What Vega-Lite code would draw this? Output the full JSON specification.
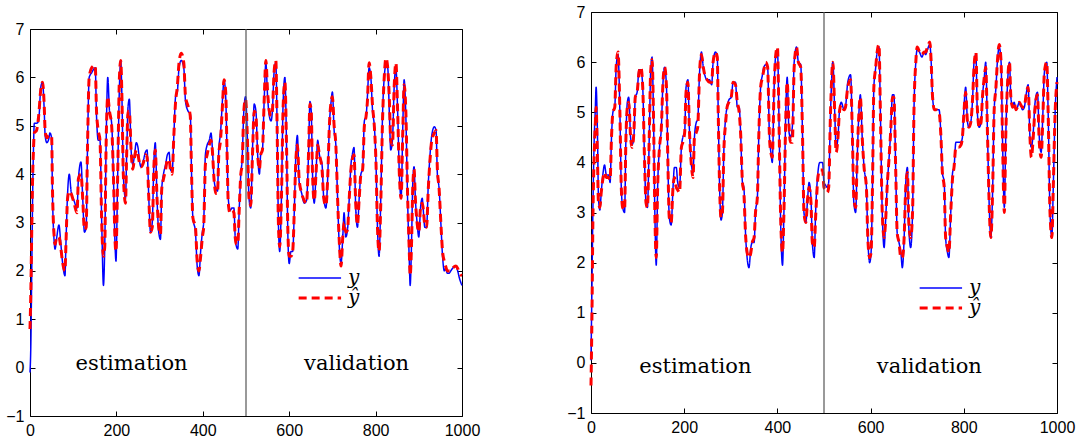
{
  "$schema": "https://vega.github.io/schema/vega-lite/v6.json",
  "background": "white",
  "padding": {"left": 5, "top": 3, "right": 3, "bottom": 0},
  "spacing": 85,
  "config": {
    "view": {"stroke": "black", "strokeWidth": 1},
    "axis": {"labelFont": "Liberation Sans", "labelFontSize": 16, "labelColor": "black", "tickColor": "black", "domain": false, "grid": false, "title": null, "labelFlush": false, "tickSize": -5, "labelPadding": 11, "format": "d"},
    "text": {"font": "DejaVu Serif"}
  },
  "datasets": {
    "L": [
      {"t":0,"y":-0.1,"ŷ":0.8},{"t":2,"y":0.5,"ŷ":1.6},{"t":4,"y":2.0,"ŷ":2.8},{"t":6,"y":3.5,"ŷ":3.9},{"t":8,"y":4.5,"ŷ":4.5},{"t":10,"y":5.05,"ŷ":4.85},{"t":15,"y":5.05,"ŷ":4.9},{"t":20,"y":5.1,"ŷ":5.2},{"t":25,"y":5.8,"ŷ":5.75},{"t":29,"y":5.9,"ŷ":5.9},{"t":33,"y":5.3,"ŷ":5.4},{"t":35,"y":4.8,"ŷ":4.9},{"t":39,"y":4.65,"ŷ":4.75},{"t":44,"y":4.75,"ŷ":4.8},{"t":46,"y":4.85,"ŷ":4.8},{"t":50,"y":4.75,"ŷ":4.8},{"t":52,"y":3.6,"ŷ":3.7},{"t":56,"y":2.6,"ŷ":2.7},{"t":58,"y":2.45,"ŷ":2.55},{"t":62,"y":2.7,"ŷ":2.7},{"t":67,"y":2.95,"ŷ":2.7},{"t":71,"y":2.6,"ŷ":2.5},{"t":75,"y":2.2,"ŷ":2.2},{"t":81,"y":1.9,"ŷ":2.0},{"t":83,"y":2.5,"ŷ":2.5},{"t":87,"y":3.6,"ŷ":3.5},{"t":91,"y":4.0,"ŷ":3.65},{"t":95,"y":3.65,"ŷ":3.6},{"t":102,"y":3.45,"ŷ":3.4},{"t":109,"y":3.3,"ŷ":3.2},{"t":112,"y":3.9,"ŷ":3.9},{"t":118,"y":4.25,"ŷ":4.0},{"t":122,"y":3.5,"ŷ":3.5},{"t":126,"y":2.8,"ŷ":2.85},{"t":130,"y":2.9,"ŷ":2.9},{"t":133,"y":4.5,"ŷ":4.5},{"t":137,"y":6.0,"ŷ":6.0},{"t":143,"y":6.1,"ŷ":6.2},{"t":151,"y":6.2,"ŷ":6.25},{"t":154,"y":5.2,"ŷ":5.3},{"t":158,"y":4.7,"ŷ":4.9},{"t":162,"y":4.7,"ŷ":4.7},{"t":166,"y":3.0,"ŷ":3.0},{"t":170,"y":1.7,"ŷ":2.3},{"t":173,"y":2.5,"ŷ":2.5},{"t":176,"y":4.5,"ŷ":4.5},{"t":180,"y":6.0,"ŷ":5.6},{"t":184,"y":5.3,"ŷ":5.3},{"t":189,"y":5.05,"ŷ":5.0},{"t":193,"y":4.0,"ŷ":4.0},{"t":197,"y":2.5,"ŷ":2.6},{"t":199,"y":2.2,"ŷ":2.4},{"t":203,"y":4.0,"ŷ":4.0},{"t":207,"y":5.8,"ŷ":6.0},{"t":210,"y":6.35,"ŷ":6.35},{"t":213,"y":5.5,"ŷ":5.5},{"t":216,"y":4.0,"ŷ":4.0},{"t":221,"y":3.5,"ŷ":3.4},{"t":224,"y":4.5,"ŷ":4.5},{"t":227,"y":5.4,"ŷ":5.3},{"t":230,"y":5.55,"ŷ":5.3},{"t":234,"y":4.5,"ŷ":4.5},{"t":238,"y":4.2,"ŷ":4.1},{"t":242,"y":4.4,"ŷ":4.35},{"t":246,"y":4.65,"ŷ":4.5},{"t":250,"y":4.55,"ŷ":4.4},{"t":253,"y":4.3,"ŷ":4.25},{"t":257,"y":4.15,"ŷ":4.15},{"t":263,"y":4.3,"ŷ":4.25},{"t":267,"y":4.45,"ŷ":4.4},{"t":271,"y":4.5,"ŷ":4.35},{"t":275,"y":3.5,"ŷ":3.5},{"t":279,"y":2.8,"ŷ":2.8},{"t":283,"y":3.0,"ŷ":2.9},{"t":287,"y":4.3,"ŷ":4.2},{"t":290,"y":4.65,"ŷ":4.5},{"t":294,"y":3.5,"ŷ":3.5},{"t":298,"y":2.8,"ŷ":2.9},{"t":302,"y":2.65,"ŷ":2.75},{"t":305,"y":3.7,"ŷ":3.7},{"t":309,"y":4.0,"ŷ":3.9},{"t":314,"y":4.2,"ŷ":4.1},{"t":318,"y":4.4,"ŷ":4.3},{"t":322,"y":4.45,"ŷ":4.3},{"t":325,"y":4.1,"ŷ":4.1},{"t":329,"y":4.05,"ŷ":4.0},{"t":333,"y":4.8,"ŷ":4.8},{"t":337,"y":5.6,"ŷ":5.5},{"t":341,"y":5.7,"ŷ":5.8},{"t":345,"y":6.2,"ŷ":6.3},{"t":350,"y":6.35,"ŷ":6.5},{"t":356,"y":6.2,"ŷ":6.3},{"t":360,"y":5.5,"ŷ":5.6},{"t":366,"y":5.3,"ŷ":5.4},{"t":371,"y":5.25,"ŷ":5.2},{"t":374,"y":4.0,"ŷ":4.0},{"t":377,"y":3.1,"ŷ":3.1},{"t":383,"y":2.8,"ŷ":2.9},{"t":387,"y":2.1,"ŷ":2.2},{"t":391,"y":1.9,"ŷ":2.0},{"t":395,"y":2.4,"ŷ":2.3},{"t":399,"y":2.8,"ŷ":2.7},{"t":402,"y":3.0,"ŷ":2.9},{"t":406,"y":4.4,"ŷ":4.2},{"t":410,"y":4.6,"ŷ":4.4},{"t":415,"y":4.7,"ŷ":4.6},{"t":419,"y":4.85,"ŷ":4.7},{"t":422,"y":4.55,"ŷ":4.5},{"t":426,"y":3.9,"ŷ":3.9},{"t":430,"y":3.7,"ŷ":3.6},{"t":434,"y":3.65,"ŷ":3.6},{"t":437,"y":4.5,"ŷ":4.4},{"t":441,"y":4.85,"ŷ":4.7},{"t":446,"y":5.6,"ŷ":5.5},{"t":449,"y":5.95,"ŷ":5.95},{"t":453,"y":5.6,"ŷ":5.7},{"t":456,"y":4.5,"ŷ":4.5},{"t":459,"y":3.5,"ŷ":3.4},{"t":463,"y":3.25,"ŷ":3.2},{"t":468,"y":3.3,"ŷ":3.25},{"t":472,"y":3.3,"ŷ":3.2},{"t":475,"y":2.7,"ŷ":2.7},{"t":478,"y":2.5,"ŷ":2.55},{"t":481,"y":2.45,"ŷ":2.55},{"t":484,"y":3.2,"ŷ":3.2},{"t":488,"y":4.0,"ŷ":4.0},{"t":491,"y":4.3,"ŷ":4.2},{"t":495,"y":5.3,"ŷ":5.3},{"t":499,"y":5.6,"ŷ":5.55},{"t":503,"y":4.8,"ŷ":4.8},{"t":507,"y":3.5,"ŷ":3.5},{"t":511,"y":3.3,"ŷ":3.35},{"t":515,"y":4.5,"ŷ":4.4},{"t":519,"y":5.45,"ŷ":5.3},{"t":523,"y":5.3,"ŷ":5.2},{"t":527,"y":4.4,"ŷ":4.4},{"t":531,"y":4.0,"ŷ":4.1},{"t":534,"y":4.4,"ŷ":4.4},{"t":538,"y":4.5,"ŷ":4.5},{"t":542,"y":5.5,"ŷ":5.5},{"t":546,"y":6.3,"ŷ":6.35},{"t":550,"y":5.6,"ŷ":5.7},{"t":554,"y":5.2,"ŷ":5.3},{"t":558,"y":5.1,"ŷ":5.2},{"t":561,"y":5.3,"ŷ":5.3},{"t":565,"y":6.1,"ŷ":6.1},{"t":569,"y":6.3,"ŷ":6.35},{"t":572,"y":5.0,"ŷ":5.0},{"t":575,"y":3.0,"ŷ":3.0},{"t":578,"y":2.4,"ŷ":2.5},{"t":582,"y":3.5,"ŷ":3.5},{"t":586,"y":5.5,"ŷ":5.4},{"t":590,"y":6.0,"ŷ":5.9},{"t":594,"y":4.5,"ŷ":4.5},{"t":597,"y":2.7,"ŷ":2.8},{"t":600,"y":2.15,"ŷ":2.3},{"t":604,"y":2.4,"ŷ":2.3},{"t":608,"y":2.4,"ŷ":2.4},{"t":612,"y":3.3,"ŷ":3.3},{"t":615,"y":4.3,"ŷ":4.2},{"t":619,"y":4.8,"ŷ":4.6},{"t":623,"y":3.85,"ŷ":3.9},{"t":629,"y":3.6,"ŷ":3.6},{"t":635,"y":3.4,"ŷ":3.45},{"t":640,"y":3.45,"ŷ":3.4},{"t":645,"y":4.5,"ŷ":4.5},{"t":648,"y":5.5,"ŷ":5.45},{"t":651,"y":5.3,"ŷ":5.3},{"t":654,"y":4.0,"ŷ":4.0},{"t":658,"y":3.4,"ŷ":3.45},{"t":662,"y":4.0,"ŷ":4.0},{"t":666,"y":4.7,"ŷ":4.6},{"t":670,"y":4.4,"ŷ":4.4},{"t":676,"y":4.2,"ŷ":4.1},{"t":680,"y":3.5,"ŷ":3.5},{"t":685,"y":3.3,"ŷ":3.35},{"t":689,"y":3.9,"ŷ":3.9},{"t":693,"y":5.0,"ŷ":5.0},{"t":697,"y":5.5,"ŷ":5.5},{"t":700,"y":5.7,"ŷ":5.6},{"t":704,"y":4.9,"ŷ":5.0},{"t":708,"y":4.6,"ŷ":4.6},{"t":712,"y":3.5,"ŷ":3.5},{"t":716,"y":2.5,"ŷ":2.6},{"t":720,"y":2.15,"ŷ":2.1},{"t":724,"y":2.7,"ŷ":2.7},{"t":727,"y":3.2,"ŷ":3.0},{"t":731,"y":2.7,"ŷ":2.8},{"t":735,"y":2.85,"ŷ":2.85},{"t":739,"y":3.5,"ŷ":3.5},{"t":743,"y":4.2,"ŷ":4.1},{"t":746,"y":4.4,"ŷ":4.3},{"t":750,"y":4.55,"ŷ":4.4},{"t":754,"y":3.3,"ŷ":3.4},{"t":758,"y":2.9,"ŷ":2.95},{"t":762,"y":3.5,"ŷ":3.5},{"t":766,"y":4.0,"ŷ":4.0},{"t":770,"y":4.1,"ŷ":4.1},{"t":774,"y":5.1,"ŷ":5.0},{"t":778,"y":5.2,"ŷ":5.2},{"t":781,"y":5.6,"ŷ":5.5},{"t":785,"y":6.2,"ŷ":6.3},{"t":789,"y":6.0,"ŷ":6.0},{"t":793,"y":5.3,"ŷ":5.4},{"t":797,"y":5.0,"ŷ":5.0},{"t":801,"y":4.2,"ŷ":4.2},{"t":804,"y":3.0,"ŷ":3.0},{"t":808,"y":2.3,"ŷ":2.4},{"t":812,"y":3.5,"ŷ":3.4},{"t":816,"y":5.2,"ŷ":5.1},{"t":820,"y":6.0,"ŷ":6.0},{"t":824,"y":6.25,"ŷ":6.4},{"t":828,"y":6.2,"ŷ":6.2},{"t":832,"y":5.2,"ŷ":5.5},{"t":835,"y":4.5,"ŷ":4.7},{"t":839,"y":4.7,"ŷ":4.6},{"t":843,"y":5.8,"ŷ":5.8},{"t":847,"y":6.2,"ŷ":6.3},{"t":851,"y":5.3,"ŷ":5.3},{"t":855,"y":4.0,"ŷ":4.0},{"t":859,"y":3.5,"ŷ":3.5},{"t":863,"y":5.0,"ŷ":4.9},{"t":866,"y":5.95,"ŷ":5.85},{"t":870,"y":5.2,"ŷ":5.3},{"t":874,"y":3.5,"ŷ":3.6},{"t":878,"y":2.2,"ŷ":2.4},{"t":880,"y":1.7,"ŷ":1.9},{"t":883,"y":2.5,"ŷ":2.5},{"t":886,"y":3.8,"ŷ":3.7},{"t":889,"y":4.15,"ŷ":4.1},{"t":892,"y":3.5,"ŷ":3.5},{"t":896,"y":3.0,"ŷ":3.0},{"t":900,"y":2.7,"ŷ":2.8},{"t":904,"y":3.3,"ŷ":3.3},{"t":908,"y":3.5,"ŷ":3.4},{"t":910,"y":3.3,"ŷ":3.3},{"t":914,"y":2.9,"ŷ":2.95},{"t":918,"y":2.9,"ŷ":2.9},{"t":922,"y":3.8,"ŷ":3.7},{"t":926,"y":4.4,"ŷ":4.3},{"t":930,"y":4.8,"ŷ":4.7},{"t":936,"y":4.98,"ŷ":4.85},{"t":940,"y":4.9,"ŷ":4.9},{"t":943,"y":4.0,"ŷ":4.1},{"t":947,"y":3.7,"ŷ":3.7},{"t":951,"y":3.0,"ŷ":3.0},{"t":955,"y":2.3,"ŷ":2.4},{"t":959,"y":2.0,"ŷ":2.2},{"t":962,"y":2.05,"ŷ":2.1},{"t":966,"y":1.95,"ŷ":2.0},{"t":970,"y":1.95,"ŷ":2.0},{"t":974,"y":2.0,"ŷ":2.0},{"t":978,"y":2.05,"ŷ":2.05},{"t":986,"y":2.1,"ŷ":2.1},{"t":990,"y":2.0,"ŷ":2.05},{"t":994,"y":1.85,"ŷ":1.95},{"t":1000,"y":1.7,"ŷ":1.9}
    ],
    "R": [
      {"t":0,"y":0.05,"ŷ":-0.45},{"t":2,"y":1.5,"ŷ":0.9},{"t":4,"y":3.0,"ŷ":2.8},{"t":7,"y":4.5,"ŷ":4.2},{"t":9,"y":5.0,"ŷ":4.7},{"t":11,"y":5.5,"ŷ":5.1},{"t":14,"y":4.5,"ŷ":4.0},{"t":16,"y":3.3,"ŷ":3.2},{"t":19,"y":3.05,"ŷ":3.1},{"t":22,"y":3.4,"ŷ":3.4},{"t":26,"y":3.8,"ŷ":3.7},{"t":29,"y":3.95,"ŷ":3.8},{"t":33,"y":3.75,"ŷ":3.7},{"t":38,"y":3.75,"ŷ":3.7},{"t":41,"y":3.6,"ŷ":3.65},{"t":44,"y":4.5,"ŷ":4.5},{"t":47,"y":5.0,"ŷ":5.0},{"t":51,"y":5.1,"ŷ":5.1},{"t":54,"y":5.9,"ŷ":5.9},{"t":58,"y":6.15,"ŷ":6.2},{"t":62,"y":5.0,"ŷ":5.0},{"t":65,"y":3.5,"ŷ":3.5},{"t":68,"y":3.1,"ŷ":3.1},{"t":72,"y":3.0,"ŷ":3.05},{"t":75,"y":4.5,"ŷ":4.5},{"t":78,"y":5.2,"ŷ":5.1},{"t":81,"y":5.3,"ŷ":5.2},{"t":85,"y":4.5,"ŷ":4.5},{"t":88,"y":4.35,"ŷ":4.3},{"t":92,"y":4.5,"ŷ":4.6},{"t":95,"y":5.3,"ŷ":5.3},{"t":99,"y":5.4,"ŷ":5.4},{"t":103,"y":5.85,"ŷ":5.8},{"t":107,"y":5.85,"ŷ":5.9},{"t":111,"y":5.5,"ŷ":5.5},{"t":115,"y":4.0,"ŷ":4.0},{"t":118,"y":3.2,"ŷ":3.2},{"t":121,"y":3.1,"ŷ":3.1},{"t":125,"y":4.5,"ŷ":4.5},{"t":128,"y":5.8,"ŷ":5.8},{"t":131,"y":6.1,"ŷ":6.05},{"t":134,"y":5.0,"ŷ":5.0},{"t":137,"y":3.0,"ŷ":3.0},{"t":140,"y":1.95,"ŷ":2.1},{"t":143,"y":3.5,"ŷ":3.5},{"t":147,"y":4.3,"ŷ":4.3},{"t":151,"y":4.7,"ŷ":4.7},{"t":154,"y":5.5,"ŷ":5.5},{"t":158,"y":5.9,"ŷ":5.9},{"t":162,"y":5.5,"ŷ":5.5},{"t":165,"y":4.0,"ŷ":4.0},{"t":168,"y":2.9,"ŷ":2.9},{"t":172,"y":2.75,"ŷ":2.8},{"t":176,"y":3.5,"ŷ":3.5},{"t":179,"y":3.9,"ŷ":3.7},{"t":183,"y":3.9,"ŷ":3.5},{"t":186,"y":3.6,"ŷ":3.45},{"t":190,"y":3.5,"ŷ":3.4},{"t":194,"y":4.3,"ŷ":4.3},{"t":197,"y":4.5,"ŷ":4.4},{"t":201,"y":4.6,"ŷ":4.6},{"t":204,"y":5.5,"ŷ":5.4},{"t":208,"y":5.65,"ŷ":5.6},{"t":211,"y":4.7,"ŷ":4.7},{"t":215,"y":4.0,"ŷ":4.0},{"t":219,"y":3.8,"ŷ":3.7},{"t":222,"y":4.5,"ŷ":4.5},{"t":226,"y":4.8,"ŷ":4.6},{"t":229,"y":4.85,"ŷ":4.7},{"t":233,"y":5.8,"ŷ":5.8},{"t":237,"y":6.2,"ŷ":6.15},{"t":241,"y":5.9,"ŷ":5.9},{"t":244,"y":5.75,"ŷ":5.75},{"t":249,"y":5.65,"ŷ":5.65},{"t":254,"y":5.65,"ŷ":5.6},{"t":259,"y":5.55,"ŷ":5.6},{"t":262,"y":6.0,"ŷ":6.0},{"t":267,"y":6.2,"ŷ":6.2},{"t":271,"y":6.1,"ŷ":6.1},{"t":273,"y":5.0,"ŷ":5.0},{"t":276,"y":3.5,"ŷ":3.5},{"t":279,"y":2.85,"ŷ":2.9},{"t":282,"y":3.0,"ŷ":3.0},{"t":285,"y":4.2,"ŷ":4.2},{"t":289,"y":4.9,"ŷ":4.8},{"t":292,"y":5.1,"ŷ":5.1},{"t":296,"y":5.25,"ŷ":5.2},{"t":301,"y":5.3,"ŷ":5.3},{"t":305,"y":5.6,"ŷ":5.6},{"t":310,"y":5.6,"ŷ":5.55},{"t":314,"y":5.1,"ŷ":5.2},{"t":318,"y":5.1,"ŷ":5.0},{"t":321,"y":4.6,"ŷ":4.6},{"t":325,"y":3.6,"ŷ":3.6},{"t":328,"y":3.5,"ŷ":3.4},{"t":332,"y":2.5,"ŷ":2.5},{"t":335,"y":2.1,"ŷ":2.2},{"t":339,"y":1.9,"ŷ":2.1},{"t":343,"y":2.3,"ŷ":2.2},{"t":346,"y":2.4,"ŷ":2.4},{"t":350,"y":2.4,"ŷ":2.5},{"t":353,"y":3.0,"ŷ":3.0},{"t":357,"y":3.3,"ŷ":3.3},{"t":360,"y":4.5,"ŷ":4.5},{"t":364,"y":5.5,"ŷ":5.5},{"t":368,"y":5.75,"ŷ":5.7},{"t":371,"y":5.9,"ŷ":5.85},{"t":375,"y":5.95,"ŷ":6.0},{"t":379,"y":5.9,"ŷ":5.9},{"t":383,"y":4.5,"ŷ":4.5},{"t":386,"y":4.2,"ŷ":4.2},{"t":389,"y":4.0,"ŷ":4.1},{"t":393,"y":5.5,"ŷ":5.5},{"t":396,"y":6.1,"ŷ":6.1},{"t":400,"y":6.25,"ŷ":6.3},{"t":404,"y":4.5,"ŷ":4.5},{"t":407,"y":2.8,"ŷ":2.9},{"t":411,"y":1.95,"ŷ":2.2},{"t":414,"y":3.0,"ŷ":3.0},{"t":418,"y":5.0,"ŷ":4.9},{"t":421,"y":5.7,"ŷ":5.6},{"t":425,"y":4.6,"ŷ":4.7},{"t":428,"y":4.5,"ŷ":4.4},{"t":432,"y":4.7,"ŷ":4.4},{"t":436,"y":6.0,"ŷ":5.9},{"t":441,"y":6.3,"ŷ":6.3},{"t":445,"y":6.0,"ŷ":6.0},{"t":450,"y":5.95,"ŷ":5.9},{"t":454,"y":4.5,"ŷ":4.5},{"t":457,"y":3.0,"ŷ":3.0},{"t":461,"y":2.8,"ŷ":2.8},{"t":465,"y":3.3,"ŷ":3.3},{"t":468,"y":3.6,"ŷ":3.5},{"t":472,"y":3.3,"ŷ":3.2},{"t":475,"y":2.4,"ŷ":2.4},{"t":479,"y":2.1,"ŷ":2.3},{"t":482,"y":3.0,"ŷ":2.9},{"t":487,"y":3.8,"ŷ":3.7},{"t":491,"y":4.0,"ŷ":3.85},{"t":497,"y":4.0,"ŷ":3.85},{"t":500,"y":3.6,"ŷ":3.5},{"t":503,"y":3.55,"ŷ":3.45},{"t":507,"y":3.5,"ŷ":3.4},{"t":510,"y":3.6,"ŷ":3.5},{"t":514,"y":5.0,"ŷ":5.0},{"t":519,"y":6.0,"ŷ":6.0},{"t":523,"y":5.0,"ŷ":5.0},{"t":526,"y":4.3,"ŷ":4.2},{"t":530,"y":4.5,"ŷ":4.5},{"t":533,"y":5.0,"ŷ":5.0},{"t":537,"y":5.2,"ŷ":5.15},{"t":543,"y":5.05,"ŷ":5.05},{"t":546,"y":5.1,"ŷ":5.1},{"t":551,"y":5.6,"ŷ":5.5},{"t":557,"y":5.75,"ŷ":5.65},{"t":561,"y":4.5,"ŷ":4.5},{"t":564,"y":3.2,"ŷ":3.3},{"t":568,"y":3.0,"ŷ":3.1},{"t":571,"y":4.0,"ŷ":4.0},{"t":575,"y":5.0,"ŷ":5.0},{"t":578,"y":5.35,"ŷ":5.3},{"t":582,"y":4.5,"ŷ":4.5},{"t":586,"y":3.9,"ŷ":3.9},{"t":591,"y":3.5,"ŷ":3.5},{"t":594,"y":2.5,"ŷ":2.5},{"t":598,"y":2.0,"ŷ":2.1},{"t":601,"y":2.2,"ŷ":2.2},{"t":604,"y":3.5,"ŷ":3.5},{"t":607,"y":5.5,"ŷ":5.5},{"t":611,"y":5.9,"ŷ":5.9},{"t":614,"y":6.2,"ŷ":6.2},{"t":618,"y":6.3,"ŷ":6.35},{"t":621,"y":5.0,"ŷ":5.0},{"t":625,"y":3.0,"ŷ":3.0},{"t":629,"y":2.3,"ŷ":2.5},{"t":632,"y":2.8,"ŷ":2.8},{"t":636,"y":3.6,"ŷ":3.6},{"t":639,"y":4.0,"ŷ":4.0},{"t":643,"y":4.6,"ŷ":4.6},{"t":647,"y":5.35,"ŷ":5.3},{"t":650,"y":5.35,"ŷ":5.3},{"t":654,"y":3.8,"ŷ":3.8},{"t":657,"y":2.6,"ŷ":2.6},{"t":661,"y":2.4,"ŷ":2.4},{"t":665,"y":2.2,"ŷ":2.1},{"t":668,"y":1.9,"ŷ":2.1},{"t":672,"y":2.5,"ŷ":2.5},{"t":675,"y":3.5,"ŷ":3.4},{"t":679,"y":3.9,"ŷ":3.8},{"t":682,"y":2.7,"ŷ":2.8},{"t":686,"y":2.3,"ŷ":2.5},{"t":690,"y":3.0,"ŷ":3.0},{"t":693,"y":5.0,"ŷ":5.0},{"t":697,"y":6.0,"ŷ":6.0},{"t":700,"y":6.25,"ŷ":6.3},{"t":705,"y":6.2,"ŷ":6.2},{"t":710,"y":6.1,"ŷ":6.15},{"t":715,"y":6.2,"ŷ":6.2},{"t":718,"y":6.15,"ŷ":6.2},{"t":722,"y":6.25,"ŷ":6.3},{"t":727,"y":6.35,"ŷ":6.4},{"t":730,"y":6.0,"ŷ":6.0},{"t":733,"y":5.3,"ŷ":5.3},{"t":737,"y":5.05,"ŷ":5.05},{"t":741,"y":5.05,"ŷ":5.05},{"t":747,"y":5.05,"ŷ":5.0},{"t":751,"y":4.5,"ŷ":4.5},{"t":754,"y":3.8,"ŷ":3.8},{"t":758,"y":3.6,"ŷ":3.5},{"t":761,"y":2.5,"ŷ":2.5},{"t":765,"y":2.2,"ŷ":2.3},{"t":768,"y":2.1,"ŷ":2.2},{"t":772,"y":3.0,"ŷ":3.0},{"t":776,"y":3.8,"ŷ":3.7},{"t":779,"y":3.9,"ŷ":3.9},{"t":783,"y":4.4,"ŷ":4.3},{"t":789,"y":4.4,"ŷ":4.3},{"t":794,"y":4.4,"ŷ":4.35},{"t":797,"y":4.5,"ŷ":4.5},{"t":801,"y":5.2,"ŷ":5.1},{"t":804,"y":5.5,"ŷ":5.4},{"t":808,"y":4.8,"ŷ":4.8},{"t":811,"y":4.7,"ŷ":4.7},{"t":815,"y":4.8,"ŷ":4.8},{"t":819,"y":5.3,"ŷ":5.3},{"t":822,"y":6.0,"ŷ":5.9},{"t":826,"y":6.15,"ŷ":6.2},{"t":829,"y":5.0,"ŷ":5.1},{"t":833,"y":4.7,"ŷ":4.7},{"t":837,"y":4.8,"ŷ":4.8},{"t":840,"y":5.3,"ŷ":5.3},{"t":844,"y":5.7,"ŷ":5.7},{"t":847,"y":6.0,"ŷ":5.9},{"t":851,"y":4.5,"ŷ":4.5},{"t":855,"y":3.0,"ŷ":3.0},{"t":858,"y":2.5,"ŷ":2.5},{"t":862,"y":3.5,"ŷ":3.5},{"t":865,"y":5.0,"ŷ":5.0},{"t":869,"y":5.5,"ŷ":5.5},{"t":872,"y":6.0,"ŷ":6.0},{"t":876,"y":6.3,"ŷ":6.35},{"t":880,"y":6.0,"ŷ":6.0},{"t":883,"y":4.5,"ŷ":4.5},{"t":887,"y":3.1,"ŷ":3.0},{"t":890,"y":4.5,"ŷ":4.5},{"t":894,"y":5.6,"ŷ":5.6},{"t":898,"y":6.0,"ŷ":6.0},{"t":901,"y":5.3,"ŷ":5.3},{"t":905,"y":5.1,"ŷ":5.1},{"t":908,"y":5.2,"ŷ":5.2},{"t":912,"y":5.05,"ŷ":5.05},{"t":915,"y":5.1,"ŷ":5.1},{"t":919,"y":5.2,"ŷ":5.2},{"t":922,"y":5.15,"ŷ":5.15},{"t":926,"y":5.05,"ŷ":5.1},{"t":930,"y":5.1,"ŷ":5.1},{"t":933,"y":5.3,"ŷ":5.3},{"t":938,"y":5.55,"ŷ":5.5},{"t":942,"y":4.5,"ŷ":4.5},{"t":945,"y":4.3,"ŷ":4.1},{"t":949,"y":4.6,"ŷ":4.5},{"t":953,"y":5.2,"ŷ":5.1},{"t":958,"y":5.4,"ŷ":5.35},{"t":962,"y":4.5,"ŷ":4.4},{"t":966,"y":4.2,"ŷ":4.1},{"t":969,"y":4.8,"ŷ":4.7},{"t":973,"y":5.8,"ŷ":5.8},{"t":978,"y":6.0,"ŷ":6.0},{"t":981,"y":5.0,"ŷ":5.0},{"t":985,"y":3.0,"ŷ":3.0},{"t":989,"y":2.5,"ŷ":2.5},{"t":992,"y":3.5,"ŷ":3.5},{"t":996,"y":5.0,"ŷ":5.0},{"t":1000,"y":5.7,"ŷ":5.6}
    ]
  },
  "hconcat": [
    {
      "spacing": 0,
      "resolve": {
        "scale": {"color": "independent", "strokeDash": "independent", "strokeWidth": "independent"},
        "legend": {"color": "independent", "strokeDash": "independent", "strokeWidth": "independent"}
      },
      "vconcat": [
        {
          "width": 432,
          "height": 8,
          "view": {"stroke": null},
          "data": {"values": [{"k": 1}]},
          "mark": {"type": "point", "opacity": 0},
          "encoding": {}
        },
        {
          "width": 432,
          "height": 387,
          "resolve": {"axis": {"x": "independent", "y": "independent"}},
          "layer": [
            {
              "data": {"name": "L"},
              "transform": [{"fold": ["y", "ŷ"], "as": ["s", "v"]}],
              "mark": {"type": "line", "interpolate": "monotone"},
              "encoding": {
                "x": {"field": "t", "type": "quantitative", "scale": {"domain": [0, 1000], "nice": false}, "axis": {"values": [0, 200, 400, 600, 800, 1000]}},
                "y": {"field": "v", "type": "quantitative", "scale": {"domain": [-1, 7], "nice": false}, "axis": {"values": [-1, 0, 1, 2, 3, 4, 5, 6, 7]}},
                "color": {"field": "s", "type": "nominal", "scale": {"domain": ["y", "ŷ"], "range": ["#0000ff", "#ff0000"]},
                  "legend": {"orient": "none", "legendX": 294, "legendY": 239, "title": null, "symbolType": "M-5,0H1", "symbolSize": 200, "labelFont": "DejaVu Serif", "labelFontStyle": "italic", "labelFontSize": 20, "rowPadding": 0, "padding": 0, "labelOffset": 4, "labelColor": "black"}},
                "strokeDash": {"field": "s", "type": "nominal", "scale": {"domain": ["y", "ŷ"], "range": [[1, 0], [8, 5]]}},
                "strokeWidth": {"field": "s", "type": "ordinal", "scale": {"domain": ["y", "ŷ"], "range": [1.5, 3]}}
              }
            },
            {
              "data": {"values": [{"t": 500}]},
              "mark": {"type": "rule", "color": "#555555", "strokeWidth": 1.2},
              "encoding": {"x": {"field": "t", "type": "quantitative", "axis": null}}
            },
            {
              "data": {"values": [{"t": 235, "v": 0.08, "label": "estimation"}, {"t": 756, "v": 0.08, "label": "validation"}]},
              "mark": {"type": "text", "font": "DejaVu Serif", "fontSize": 21, "color": "black", "align": "center", "baseline": "middle"},
              "encoding": {
                "x": {"field": "t", "type": "quantitative", "axis": {"orient": "top", "labels": false, "values": [0, 200, 400, 600, 800, 1000]}},
                "y": {"field": "v", "type": "quantitative", "axis": {"orient": "right", "labels": false, "values": [-1, 0, 1, 2, 3, 4, 5, 6, 7]}},
                "text": {"field": "label"}
              }
            }
          ]
        }
      ]
    },
    {
      "width": 466,
      "height": 401,
      "resolve": {"axis": {"x": "independent", "y": "independent"}},
      "layer": [
        {
          "data": {"name": "R"},
          "transform": [{"fold": ["y", "ŷ"], "as": ["s", "v"]}],
          "mark": {"type": "line", "interpolate": "monotone"},
          "encoding": {
            "x": {"field": "t", "type": "quantitative", "scale": {"domain": [0, 1000], "nice": false}, "axis": {"values": [0, 200, 400, 600, 800, 1000]}},
            "y": {"field": "v", "type": "quantitative", "scale": {"domain": [-1, 7], "nice": false}, "axis": {"values": [-1, 0, 1, 2, 3, 4, 5, 6, 7]}},
            "color": {"field": "s", "type": "nominal", "scale": {"domain": ["y", "ŷ"], "range": ["#0000ff", "#ff0000"]},
              "legend": {"orient": "none", "legendX": 354, "legendY": 266, "title": null, "symbolType": "M-5,0H1", "symbolSize": 200, "labelFont": "DejaVu Serif", "labelFontStyle": "italic", "labelFontSize": 20, "rowPadding": 0, "padding": 0, "labelOffset": 4, "labelColor": "black"}},
            "strokeDash": {"field": "s", "type": "nominal", "scale": {"domain": ["y", "ŷ"], "range": [[1, 0], [8, 5]]}},
            "strokeWidth": {"field": "s", "type": "ordinal", "scale": {"domain": ["y", "ŷ"], "range": [1.5, 3]}}
          }
        },
        {
          "data": {"values": [{"t": 500}]},
          "mark": {"type": "rule", "color": "#555555", "strokeWidth": 1.2},
          "encoding": {"x": {"field": "t", "type": "quantitative", "axis": null}}
        },
        {
          "data": {"values": [{"t": 224, "v": -0.08, "label": "estimation"}, {"t": 726, "v": -0.08, "label": "validation"}]},
          "mark": {"type": "text", "font": "DejaVu Serif", "fontSize": 21, "color": "black", "align": "center", "baseline": "middle"},
          "encoding": {
            "x": {"field": "t", "type": "quantitative", "axis": {"orient": "top", "labels": false, "values": [0, 200, 400, 600, 800, 1000]}},
            "y": {"field": "v", "type": "quantitative", "axis": {"orient": "right", "labels": false, "values": [-1, 0, 1, 2, 3, 4, 5, 6, 7]}},
            "text": {"field": "label"}
          }
        }
      ]
    }
  ],
  "resolve": {
    "scale": {"color": "independent", "strokeDash": "independent", "strokeWidth": "independent"},
    "legend": {"color": "independent", "strokeDash": "independent", "strokeWidth": "independent"}
  }
}
